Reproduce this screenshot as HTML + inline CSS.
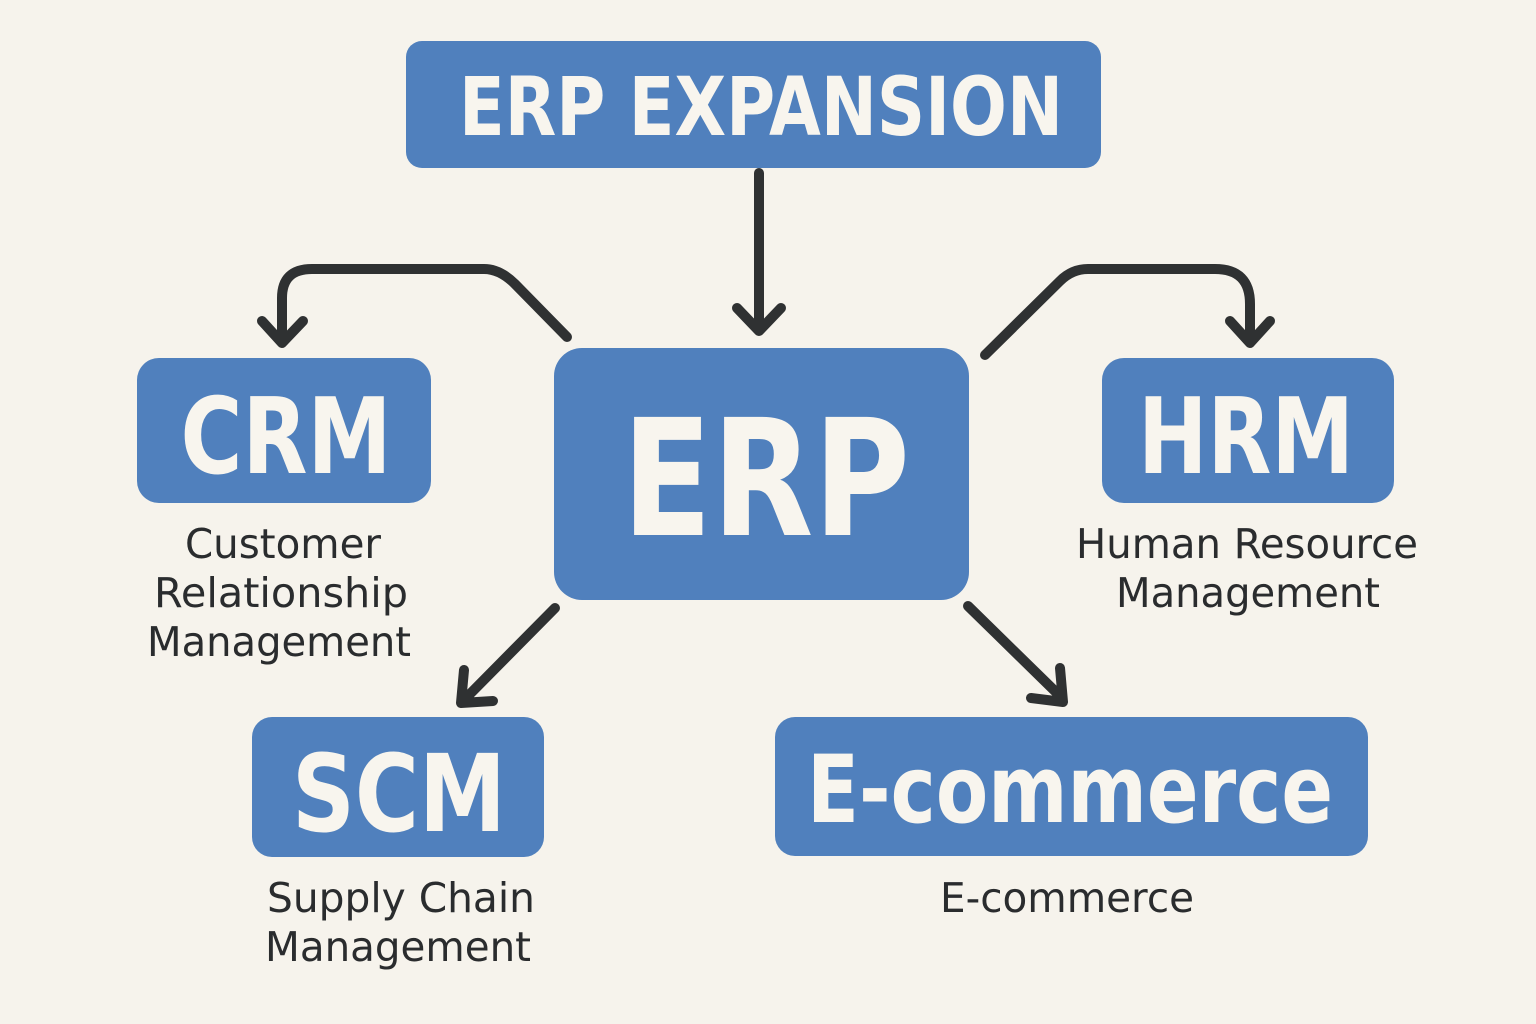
<!DOCTYPE html>
<html><head><meta charset="utf-8"><style>
html,body{margin:0;padding:0;background:#f6f3ec}
svg{display:block}
.b{font-family:"DejaVu Sans","Liberation Sans",sans-serif;font-weight:700;fill:#f8f5ee;text-anchor:middle}
.t{font-family:"DejaVu Sans","Liberation Sans",sans-serif;font-size:41px;fill:#2a2c2e;text-anchor:middle}
.a{fill:none;stroke:#2f3132;stroke-width:10;stroke-linecap:round;stroke-linejoin:round}
</style></head><body>
<svg width="1536" height="1024" viewBox="0 0 1536 1024" xmlns="http://www.w3.org/2000/svg">
<rect width="1536" height="1024" fill="#f6f3ec"/>
<rect x="406" y="41" width="695" height="127" rx="16" fill="#5080bd"/>
<rect x="137" y="358" width="294" height="145" rx="22" fill="#5080bd"/>
<rect x="554" y="348" width="415" height="252" rx="28" fill="#5080bd"/>
<rect x="1102" y="358" width="292" height="145" rx="22" fill="#5080bd"/>
<rect x="252" y="717" width="292" height="140" rx="20" fill="#5080bd"/>
<rect x="775" y="717" width="593" height="139" rx="20" fill="#5080bd"/>

<text class="b" x="761" y="135" font-size="81" textLength="604" lengthAdjust="spacingAndGlyphs">ERP EXPANSION</text>
<text class="b" x="286" y="473" font-size="105" textLength="211" lengthAdjust="spacingAndGlyphs">CRM</text>
<text class="b" x="766" y="535" font-size="162" textLength="288" lengthAdjust="spacingAndGlyphs">ERP</text>
<text class="b" x="1246" y="473" font-size="105" textLength="216" lengthAdjust="spacingAndGlyphs">HRM</text>
<text class="b" x="399" y="831" font-size="107" textLength="214" lengthAdjust="spacingAndGlyphs">SCM</text>
<text class="b" x="1070" y="822" font-size="94" textLength="526" lengthAdjust="spacingAndGlyphs">E-commerce</text>

<text class="t" x="283" y="558" textLength="196" lengthAdjust="spacingAndGlyphs">Customer</text>
<text class="t" x="281" y="607" textLength="254" lengthAdjust="spacingAndGlyphs">Relationship</text>
<text class="t" x="279" y="656" textLength="264" lengthAdjust="spacingAndGlyphs">Management</text>
<text class="t" x="1247" y="558" textLength="342" lengthAdjust="spacingAndGlyphs">Human Resource</text>
<text class="t" x="1248" y="607" textLength="264" lengthAdjust="spacingAndGlyphs">Management</text>
<text class="t" x="401" y="912" textLength="268" lengthAdjust="spacingAndGlyphs">Supply Chain</text>
<text class="t" x="398" y="961" textLength="266" lengthAdjust="spacingAndGlyphs">Management</text>
<text class="t" x="1067" y="912" textLength="254" lengthAdjust="spacingAndGlyphs">E-commerce</text>

<path class="a" d="M759 173V330M737 308L759 331L781 308"/>
<path class="a" d="M567 337L515 284Q500 269 484 269H312Q282 269 282 298V342M262 321L282 343L303 321"/>
<path class="a" d="M985 355L1060 281Q1072 269 1088 269H1215Q1250 269 1250 304V342M1230 321L1250 343L1270 321"/>
<path class="a" d="M555 608L465 699M464 670L461 703L493 701"/>
<path class="a" d="M968 606L1062 698M1031 698L1063 702L1060 668"/>
</svg>
</body></html>
